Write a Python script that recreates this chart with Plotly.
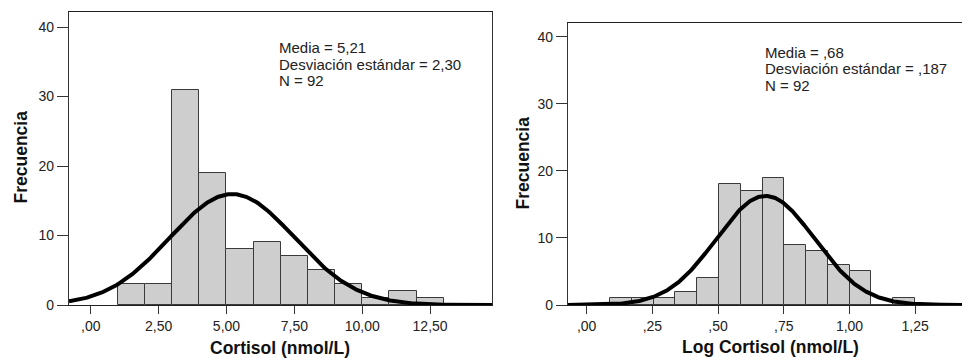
import numpy as np
import plotly.graph_objects as go

# ---------------- data ----------------
cortisol_bin_start = 1.0
cortisol_bin_width = 1.0
cortisol_counts = [3, 3, 31, 19, 8, 9, 7, 5, 3, 1, 2, 1]
cortisol_mean = 5.21
cortisol_sd = 2.30
cortisol_n = 92

log_bin_start = 0.0887
log_bin_width = 0.0829
log_counts = [1, 1, 1, 2, 4, 18, 17, 19, 9, 8, 6, 5, 0, 1]
log_mean = 0.68
log_sd = 0.187
log_n = 92

cortisol_tickvals = [0, 2.5, 5, 7.5, 10, 12.5]
cortisol_ticktext = [",00", "2,50", "5,00", "7,50", "10,00", "12,50"]
log_tickvals = [0, 0.25, 0.5, 0.75, 1.0, 1.25]
log_ticktext = [",00", ",25", ",50", ",75", "1,00", "1,25"]
y_tickvals = [0, 10, 20, 30, 40]

left_stats = ["Media = 5,21", "Desviación estándar = 2,30", "N = 92"]
right_stats = ["Media = ,68", "Desviación estándar = ,187", "N = 92"]

# ---------------- figure ----------------
W, H = 962, 358
FONT = "Liberation Sans, Arial, Helvetica, sans-serif"

def px_x(p):
    return p / W

def px_y(p):
    return 1 - p / H

cortisol_xrange = [-0.80, 14.78]
log_xrange = [-0.071, 1.428]


def normal_curve(mean, sd, n, bw, xr):
    xs = np.linspace(xr[0], xr[1], 400)
    ys = n * bw * np.exp(-0.5 * ((xs - mean) / sd) ** 2) / (sd * np.sqrt(2 * np.pi))
    return xs, ys


fig = go.Figure()

bar_style = dict(marker=dict(color="#cecece", line=dict(color="#3a3a3a", width=1)),
                 showlegend=False, hoverinfo="skip")

c_centers = [cortisol_bin_start + (i + 0.5) * cortisol_bin_width for i in range(len(cortisol_counts))]
fig.add_trace(go.Bar(x=c_centers, y=cortisol_counts, width=cortisol_bin_width,
                     xaxis="x", yaxis="y", **bar_style))
cx, cy = normal_curve(cortisol_mean, cortisol_sd, cortisol_n, cortisol_bin_width, cortisol_xrange)
fig.add_trace(go.Scatter(x=cx, y=cy, mode="lines", line=dict(color="black", width=4),
                         xaxis="x", yaxis="y", showlegend=False, hoverinfo="skip", cliponaxis=True))

l_centers = [log_bin_start + (i + 0.5) * log_bin_width for i in range(len(log_counts))]
fig.add_trace(go.Bar(x=l_centers, y=log_counts, width=log_bin_width,
                     xaxis="x2", yaxis="y2", **bar_style))
lx, ly = normal_curve(log_mean, log_sd, log_n, log_bin_width, log_xrange)
fig.add_trace(go.Scatter(x=lx, y=ly, mode="lines", line=dict(color="black", width=4),
                         xaxis="x2", yaxis="y2", showlegend=False, hoverinfo="skip", cliponaxis=True))

tickfont = dict(family=FONT, size=14, color="#222")
common_x = dict(showgrid=False, zeroline=False, showline=True, linecolor="#222", linewidth=1.3,
                ticks="outside", ticklen=8, tickcolor="#333", tickwidth=1.2, automargin=False,
                tickfont=tickfont, mirror=True, fixedrange=True)
common_y = dict(showgrid=False, zeroline=False, showline=True, linecolor="#333", linewidth=1.2,
                ticks="outside", ticklen=11, tickcolor="#333", tickwidth=1.2, automargin=False,
                tickfont=tickfont, fixedrange=True, tickvals=y_tickvals)

fig.update_layout(
    template="none",
    width=W, height=H,
    margin=dict(l=0, r=0, t=0, b=0, autoexpand=False),
    paper_bgcolor="white", plot_bgcolor="white",
    bargap=0,
    xaxis=dict(domain=[px_x(69), px_x(492)], range=cortisol_xrange, anchor="y",
               tickvals=cortisol_tickvals, ticktext=cortisol_ticktext, **common_x),
    yaxis=dict(domain=[px_y(305), px_y(12)], range=[0, 42.16], anchor="x", mirror=True, **common_y),
    xaxis2=dict(domain=[px_x(568), 1.0], range=log_xrange, anchor="y2",
                tickvals=log_tickvals, ticktext=log_ticktext, **common_x),
    yaxis2=dict(domain=[px_y(305), px_y(23)], range=[0, 42.05], anchor="x2", mirror=False, **common_y),
)

ann_font = dict(family=FONT, size=15, color="#222")
for txt, yp in zip(left_stats, [48, 64, 80]):
    fig.add_annotation(text=txt, x=px_x(276.5), y=px_y(yp), xref="paper", yref="paper",
                       xanchor="left", yanchor="middle", showarrow=False, font=ann_font)
for txt, yp in zip(right_stats, [53, 69, 85]):
    fig.add_annotation(text=txt, x=px_x(763), y=px_y(yp), xref="paper", yref="paper",
                       xanchor="left", yanchor="middle", showarrow=False, font=ann_font)

title_font = dict(family=FONT, size=17.5, color="#111")
fig.add_annotation(text="<b>Frecuencia</b>", x=px_x(20), y=px_y(157.5), xref="paper", yref="paper",
                   textangle=-90, showarrow=False, font=title_font, xanchor="center", yanchor="middle")
fig.add_annotation(text="<b>Frecuencia</b>", x=px_x(522), y=px_y(163.5), xref="paper", yref="paper",
                   textangle=-90, showarrow=False, font=title_font, xanchor="center", yanchor="middle")
fig.add_annotation(text="<b>Cortisol (nmol/L)</b>", x=px_x(280), y=px_y(347.5), xref="paper", yref="paper",
                   showarrow=False, font=title_font, xanchor="center", yanchor="middle")
fig.add_annotation(text="<b>Log Cortisol (nmol/L)</b>", x=px_x(770.5), y=px_y(347), xref="paper", yref="paper",
                   showarrow=False, font=title_font, xanchor="center", yanchor="middle")

fig.write_html(
    "out.html",
    config={"displayModeBar": False},
    post_script="document.body.style.margin='0';document.body.style.overflow='hidden';",
)
